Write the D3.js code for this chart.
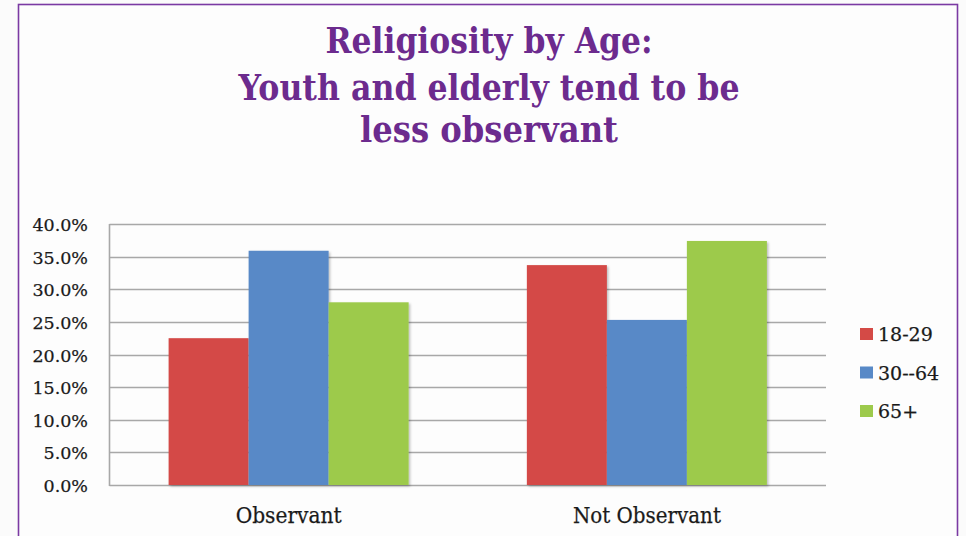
<!DOCTYPE html>
<html>
<head>
<meta charset="utf-8">
<script src="https://cdn.jsdelivr.net/npm/d3@7/dist/d3.min.js"></script>
<style>
  html, body { margin: 0; padding: 0; background: #fbfbfb; }
  svg { display: block; }
</style>
</head>
<body>
<svg id="chart" width="966" height="536"></svg>
<script>
// Share of respondents by religious observance, split by age group (percent)
const categories = ["Observant", "Not Observant"];
const seriesNames = ["18-29", "30--64", "65+"];
const values18to29 = [22.5, 33.7];
const values30to64 = [35.9, 25.3];
const values65plus = [28.0, 37.4];
const yTickValues = [0, 5, 10, 15, 20, 25, 30, 35, 40];
const titleLines = ["Religiosity by Age:", "Youth and elderly tend to be", "less observant"];

const seriesValues = [values18to29, values30to64, values65plus];
const colors = ["#d44a46", "#5889c7", "#9dca4c"];

const svg = d3.select("#chart");
const W = 966, H = 536;

// page background and purple frame
svg.append("rect").attr("x", 0).attr("y", 0).attr("width", W).attr("height", H).attr("fill", "#fbfbfb");
svg.append("rect")
  .attr("x", 18.5).attr("y", 4.5).attr("width", 939).attr("height", 560)
  .attr("fill", "#fdfdfd").attr("stroke", "#7b3aa3").attr("stroke-width", 1.6);

// title
const titleFont = "'DejaVu Serif', 'Liberation Serif', serif";
const titleWidths = [327, 501, 258];
const titleBaselines = [53, 100, 142];
svg.append("g").selectAll("text")
  .data(titleLines)
  .join("text")
  .attr("x", 489)
  .attr("y", (d, i) => titleBaselines[i])
  .attr("text-anchor", "middle")
  .attr("font-family", titleFont)
  .attr("font-weight", "bold")
  .attr("font-size", 35)
  .attr("fill", "#6c2b8e")
  .attr("textLength", (d, i) => titleWidths[i])
  .attr("lengthAdjust", "spacingAndGlyphs")
  .text(d => d);

// scales
const plotLeft = 109.5, plotRight = 826, plotTop = 224, plotBottom = 485;
const x0 = d3.scaleBand()
  .domain(categories)
  .range([plotLeft, plotRight])
  .paddingInner(0.33)
  .paddingOuter(0.165);
const x1 = d3.scaleBand()
  .domain(seriesNames)
  .range([0, x0.bandwidth()])
  .padding(0);
const y = d3.scaleLinear().domain([0, 40]).range([plotBottom, plotTop]);

// gridlines
const grid = svg.append("g");
grid.selectAll("line")
  .data(yTickValues)
  .join("line")
  .attr("x1", plotLeft).attr("x2", plotRight)
  .attr("y1", d => Math.round(y(d)) + 0.5).attr("y2", d => Math.round(y(d)) + 0.5)
  .attr("stroke", "#a8a8a8").attr("stroke-width", 1.6);

// y axis line
svg.append("line")
  .attr("x1", plotLeft).attr("x2", plotLeft)
  .attr("y1", y(40)).attr("y2", y(0) + 1)
  .attr("stroke", "#a8a8a8").attr("stroke-width", 1.6);

// y tick labels
const labelFont = "'DejaVu Serif', 'Liberation Serif', serif";
svg.append("g").selectAll("text")
  .data(yTickValues)
  .join("text")
  .attr("x", 88)
  .attr("y", d => y(d) + 7)
  .attr("text-anchor", "end")
  .attr("font-family", labelFont)
  .attr("font-size", 17.5)
  .attr("fill", "#1a1a1a")
  .attr("stroke", "#1a1a1a")
  .attr("stroke-width", 0.25)
  .text(d => d3.format(".1f")(d) + "%");

// drop shadow for bars
const defs = svg.append("defs");
const shadow = defs.append("filter").attr("id", "barShadow")
  .attr("x", "-10%").attr("y", "-10%").attr("width", "130%").attr("height", "130%");
shadow.append("feDropShadow")
  .attr("dx", 1.5).attr("dy", 1.5).attr("stdDeviation", 1.2)
  .attr("flood-color", "#000").attr("flood-opacity", 0.25);

// bars
const groups = svg.append("g").selectAll("g")
  .data(categories)
  .join("g")
  .attr("transform", d => `translate(${x0(d)},0)`);

groups.selectAll("rect")
  .data((c, ci) => seriesNames.map((s, si) => ({ series: s, si, value: seriesValues[si][ci] })))
  .join("rect")
  .attr("x", d => x1(d.series))
  .attr("y", d => y(d.value))
  .attr("width", x1.bandwidth())
  .attr("height", d => y(0) - y(d.value))
  .attr("fill", d => colors[d.si])
  .attr("filter", "url(#barShadow)");

// category labels
svg.append("g").selectAll("text")
  .data(categories)
  .join("text")
  .attr("x", d => x0(d) + x0.bandwidth() / 2)
  .attr("y", 523)
  .attr("text-anchor", "middle")
  .attr("font-family", labelFont)
  .attr("font-size", 22.5)
  .attr("fill", "#1a1a1a")
  .attr("stroke", "#1a1a1a")
  .attr("stroke-width", 0.25)
  .attr("textLength", (d, i) => [106, 148][i])
  .attr("lengthAdjust", "spacingAndGlyphs")
  .text(d => d);

// legend
const legend = svg.append("g").attr("transform", "translate(860,328)");
const legendItems = legend.selectAll("g")
  .data(seriesNames)
  .join("g")
  .attr("transform", (d, i) => `translate(0,${i * 38.5})`);
legendItems.append("rect")
  .attr("x", 0).attr("y", 0).attr("width", 13).attr("height", 12)
  .attr("fill", (d, i) => colors[i]);
legendItems.append("text")
  .attr("x", 18).attr("y", 13)
  .attr("font-family", labelFont)
  .attr("font-size", 19)
  .attr("fill", "#1a1a1a")
  .attr("stroke", "#1a1a1a")
  .attr("stroke-width", 0.25)
  .text(d => d);
</script>
</body>
</html>
